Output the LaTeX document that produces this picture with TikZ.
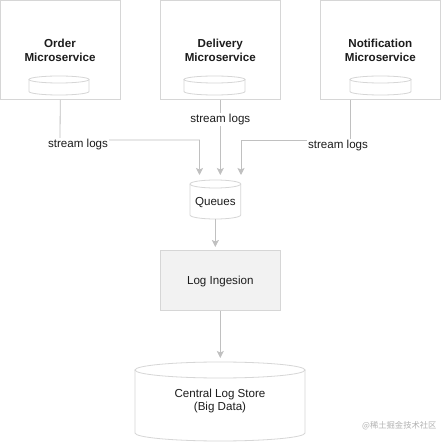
\documentclass[tikz,border=0pt]{standalone}
\usepackage{fontspec}
\setmainfont{Liberation Sans}
\newfontfamily\cjk{Noto Sans CJK SC}
\usetikzlibrary{arrows.meta}
\definecolor{edgec}{HTML}{C0C0C0}
\definecolor{bordc}{HTML}{D6D6D6}
\definecolor{txtc}{HTML}{1C1C1C}
\definecolor{fillc}{HTML}{F2F2F2}
\begin{document}
\begin{tikzpicture}[x=1pt,y=1pt,
  font=\fontsize{11.6}{13.8}\selectfont, text=txtc,
  svc/.style={draw=bordc, line width=0.8pt, inner sep=0pt},
  cylline/.style={draw=bordc, line width=0.8pt},
  lbl/.style={fill=white, inner sep=1.5pt},
  conn/.style={draw=edgec, line width=0.8pt},
  arr/.style={conn, -{Stealth[length=7pt,width=7pt,inset=1.5pt]}},
  hold/.style={inner sep=0pt, outer sep=0pt}]
\useasboundingbox (0,0) rectangle (442,442);
\fill[white] (0,0) rectangle (442,442);
% service boxes
\node[svc, minimum width=119.5pt, minimum height=99.5pt] (order) at (60.25,392.25) {};
\node[svc, minimum width=119.5pt, minimum height=99.5pt] (deliv) at (220.3,392.25) {};
\node[svc, minimum width=119.5pt, minimum height=99.5pt] (notif) at (380.3,392.25) {};
\node[font=\fontsize{11.6}{13.8}\selectfont\bfseries, align=center] (ordert) at (60,391.5) {Order\\Microservice};
\node[font=\fontsize{11.6}{13.8}\selectfont\bfseries, align=center] (delivt) at (220.3,391.5) {Delivery\\Microservice};
\node[font=\fontsize{11.6}{13.8}\selectfont\bfseries, align=center] (notift) at (380.3,391.5) {Notification\\Microservice};
% small cylinders
\foreach \nm/\cx/\rx in {ocyl/59/30, dcyl/214.5/30.5, ncyl/380.5/30.5}{
  \node[hold, minimum width=2*\rx pt, minimum height=19pt] (\nm) at (\cx,356.5) {};
  \draw[cylline] (\cx-\rx,362.5) -- (\cx-\rx,350.5) arc[start angle=180,end angle=360,x radius=\rx,y radius=3.5] -- (\cx+\rx,362.5);
  \draw[cylline] (\cx,362.5) ellipse[x radius=\rx, y radius=3.5];
}
% queues
\node[hold, minimum width=50.7pt, minimum height=44pt] (q) at (215.35,245) {};
\draw[cylline] (190,258) -- (190,227) arc[start angle=180,end angle=360,x radius=25.35,y radius=4] -- (240.7,258);
\draw[cylline] (215.35,258) ellipse[x radius=25.35, y radius=4];
\node (qt) at (215.35,239.5) {Queues};
% log ingestion
\node[svc, fill=fillc, minimum width=120.5pt, minimum height=60.5pt] (ing) at (220.3,161.7) {};
\node (ingt) at (220.3,160) {Log Ingesion};
% central store
\node[hold, minimum width=170pt, minimum height=83pt] (store) at (220,38.5) {};
\draw[cylline] (135,72) -- (135,9) arc[start angle=180,end angle=360,x radius=85,y radius=8] -- (305,72);
\draw[cylline] (220,72) ellipse[x radius=85, y radius=8];
\node[align=center] (storet) at (220,41) {Central Log Store\\(Big Data)};
% connectors
\draw[arr] (order.south) -- (60,302) -- (199.5,302) -- (199.5,267);
\draw[arr] (deliv.south) -- (220.3,267);
\draw[arr] ([xshift=-30.3pt]notif.south) -- (350,302) -- (241,302) -- (241,267);
\draw[arr] (215.35,223) -- (215.35,195);
\draw[arr] (ing.south) -- (220.3,84);
% labels
\node[lbl] (l1) at (78,297.5) {stream logs};
\node[lbl] (l2) at (220.3,322.5) {stream logs};
\node[lbl] (l3) at (338,296.5) {stream logs};
% watermark
\node[anchor=east, text=black!30, font=\cjk\fontsize{8.3}{9}\selectfont] (wm) at (440,16) {@稀土掘金技术社区};
\end{tikzpicture}
\end{document}
